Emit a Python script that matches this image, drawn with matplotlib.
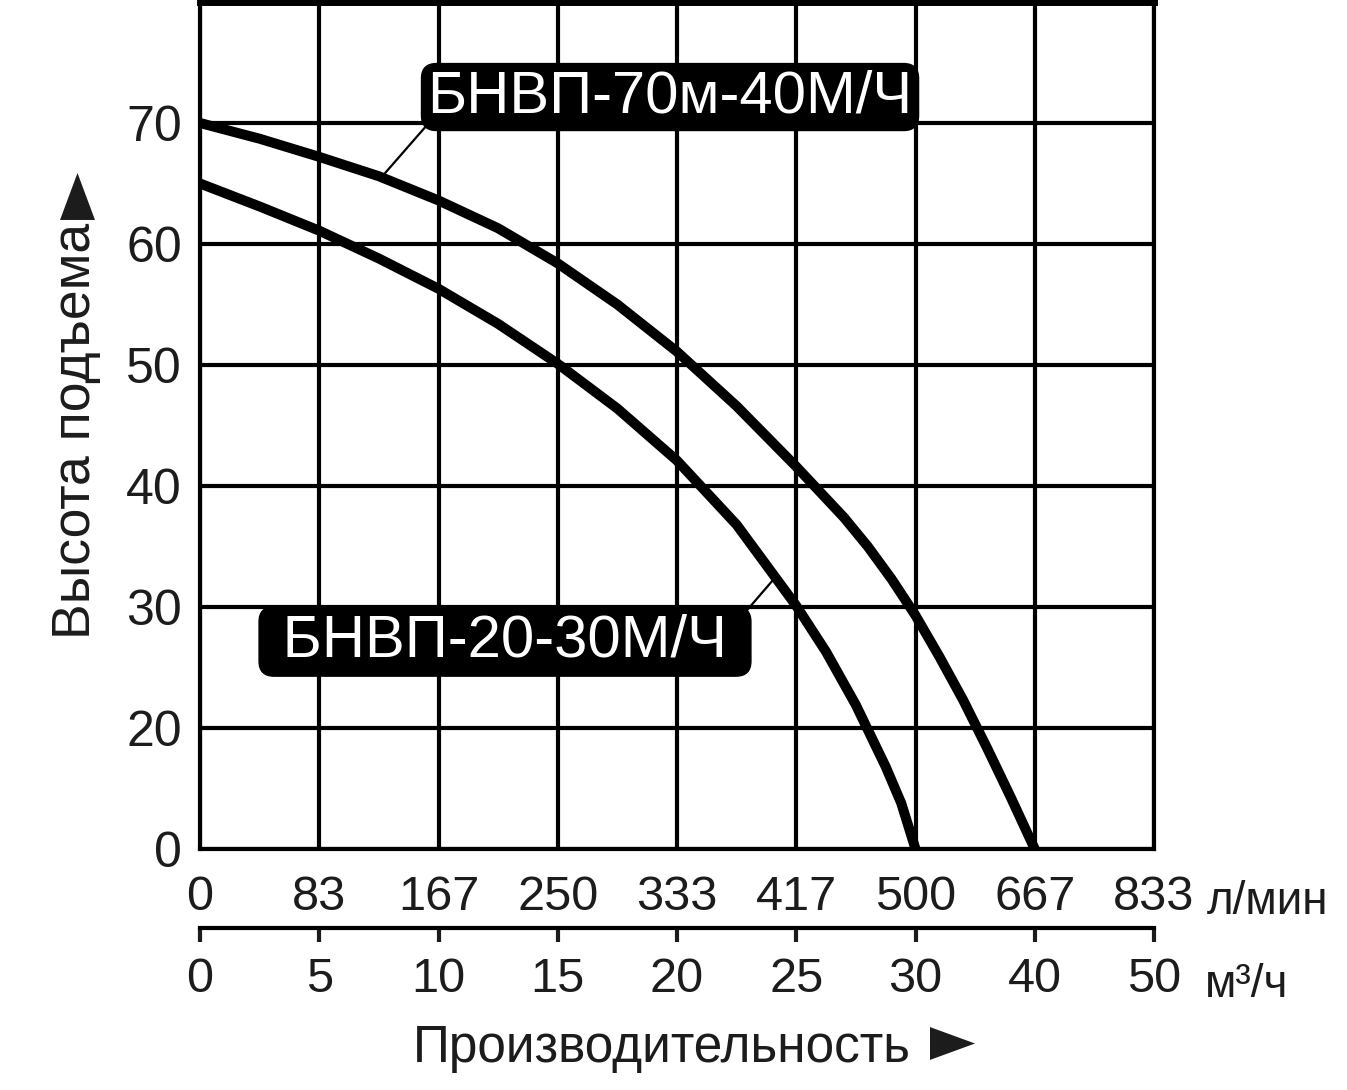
import numpy as np
import matplotlib
matplotlib.use("Agg")
import matplotlib.pyplot as plt
from matplotlib.lines import Line2D

plt.rcParams['font.family'] = ['Liberation Sans', 'DejaVu Sans']
TXT = '#1c1c1c'

# оси: шаг сетки на исходнике неравномерный, поэтому шкалы кусочно-линейные
flow_ticks = [0, 5, 10, 15, 20, 25, 30, 40, 50]          # м3/ч
lmin_labels = ['0', '83', '167', '250', '333', '417', '500', '667', '833']
head_ticks = [0, 20, 30, 40, 50, 60, 70]
head_grid = [0, 20, 30, 40, 50, 60, 70, 80]

# БНВП-70м-40М/Ч
flow_70 = [0, 2.5, 5, 7.5, 10, 12.5, 15, 17.5, 20, 22.5, 25, 26, 27, 28, 29, 30,
           32, 34, 36, 38, 40]
head_70 = [70, 68.7, 67.2, 65.6, 63.6, 61.3, 58.4, 55.0, 51.1, 46.6, 41.6, 39.5,
           37.4, 35.0, 32.3, 29.3, 25.9, 22.3, 16.7, 8.5, 0]

# БНВП-20-30М/Ч
flow_20 = [0, 2.5, 5, 7.5, 10, 12.5, 15, 17.5, 20, 22.5, 25, 26.25, 27.5, 28.75,
           29.4, 30]
head_20 = [65, 63.1, 61.1, 58.8, 56.3, 53.4, 50.1, 46.4, 42.1, 36.8, 30.1, 26.3,
           21.9, 13.6, 7.6, 0]


def x_fwd(v):
    return np.interp(v, flow_ticks, np.arange(len(flow_ticks)))


def x_inv(v):
    return np.interp(v, np.arange(len(flow_ticks)), flow_ticks)


def y_fwd(v):
    return np.interp(v, head_grid, np.arange(len(head_grid)))


def y_inv(v):
    return np.interp(v, np.arange(len(head_grid)), head_grid)


W, H = 1347, 1090
fig = plt.figure(figsize=(W / 100, H / 100), dpi=100)
ax = fig.add_axes([200 / W, 1 - 849 / H, 954 / W, 847 / H])
ax.set_xscale('function', functions=(x_fwd, x_inv))
ax.set_yscale('function', functions=(y_fwd, y_inv))
ax.set_xlim(0, 50)
ax.set_ylim(0, 80)

ax.plot(flow_70, head_70, color='black', lw=7.2, zorder=2.5)
ax.plot(flow_20, head_20, color='black', lw=7.2, zorder=2.5)

ax.set_xticks(flow_ticks, lmin_labels)
ax.set_yticks(head_ticks, [str(h) for h in head_ticks])
ax.grid(True, color='black', lw=3)
ax.tick_params(length=0, colors=TXT)
ax.tick_params(axis='x', labelsize=35, pad=19)
ax.tick_params(axis='y', labelsize=36, pad=13)
for s in ax.spines.values():
    s.set_linewidth(3)
ax.spines['top'].set_linewidth(5)

# нижняя ось в м3/ч
ax2 = fig.add_axes([200 / W, 1 - 928 / H, 954 / W, 1e-4])
ax2.set_xscale('function', functions=(x_fwd, x_inv))
ax2.set_xlim(0, 50)
ax2.patch.set_visible(False)
for k in ['left', 'right', 'top']:
    ax2.spines[k].set_visible(False)
ax2.spines['bottom'].set_linewidth(3)
ax2.set_yticks([])
ax2.set_xticks(flow_ticks, [str(f) for f in flow_ticks])
ax2.tick_params(axis='x', direction='out', length=10, width=3, pad=11,
                labelsize=35, colors=TXT)

fig.text(1207 / W, 1 - 914 / H, 'л/мин', ha='left', va='baseline', fontsize=33, color=TXT)
fig.text(1205 / W, 1 - 997 / H, 'м³/ч', ha='left', va='baseline', fontsize=33, color=TXT)

# подписи осей со стрелками-треугольниками
fig.text(662 / W, 1 - 1062 / H, 'Производительность', ha='center', va='baseline',
         fontsize=37, color=TXT)
fig.text(76 / W, 1 - 431 / H, 'Высота подъема', ha='center', va='center',
         rotation=90, fontsize=38.5, color=TXT)
tri_right = [(-1, -0.73), (1, 0), (-1, 0.73)]
tri_up = [(-0.745, -1), (0, 1), (0.745, -1)]
fig.add_artist(Line2D([952 / W], [1 - 1043 / H], transform=fig.transFigure,
                      marker=tri_right, ms=32.4, color=TXT, mew=0, ls='none'))
fig.add_artist(Line2D([77 / W], [1 - 196 / H], transform=fig.transFigure,
                      marker=tri_up, ms=33.8, color=TXT, mew=0, ls='none'))

# подписи кривых
ax.annotate('БНВП-70м-40М/Ч', xy=(7.6, 65.5), xytext=(0.4927, 0.8878),
            textcoords='axes fraction', ha='center', va='center', fontsize=43,
            color='white', zorder=4,
            bbox=dict(boxstyle='round,pad=0.1,rounding_size=0.25', fc='black', ec='black'),
            arrowprops=dict(arrowstyle='-', color='black', lw=1.6, relpos=(0, 0),
                            shrinkA=0, shrinkB=0))
ax.annotate(' БНВП-20-30М/Ч ', xy=(24.1, 32.4), xytext=(0.3197, 0.245),
            textcoords='axes fraction', ha='center', va='center', fontsize=43,
            color='white', zorder=4,
            bbox=dict(boxstyle='round,pad=0.12,rounding_size=0.25', fc='black', ec='black'),
            arrowprops=dict(arrowstyle='-', color='black', lw=1.6, relpos=(1, 1),
                            shrinkA=0, shrinkB=0))

fig.savefig('out.png', dpi=100)
